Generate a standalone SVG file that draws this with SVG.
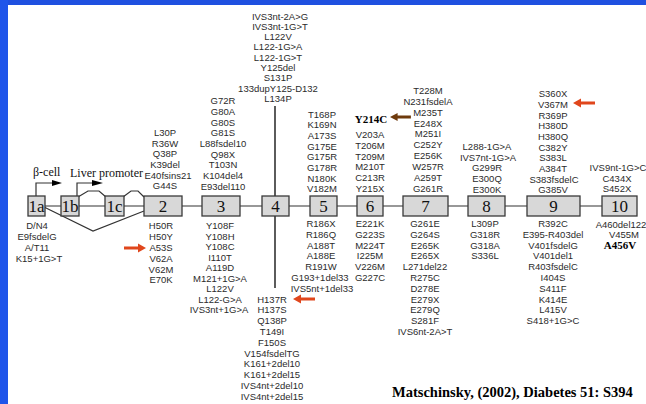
<svg xmlns="http://www.w3.org/2000/svg" xmlns:xlink="http://www.w3.org/1999/xlink" width="646" height="404" viewBox="0 0 646 404">
<style>
.m{font-family:"Liberation Sans",Arial,sans-serif;font-size:9.5px;fill:#2b2b2b;text-anchor:middle}
.b{font-family:"Liberation Serif","Times New Roman",serif;font-weight:bold;font-size:11px;fill:#000;text-anchor:middle}
.n{font-family:"Liberation Serif","Times New Roman",serif;font-size:17px;fill:#111;text-anchor:middle}
.p{font-family:"Liberation Serif","Times New Roman",serif;font-size:12px;fill:#111}
.box{fill:#d8d8d8;stroke:#3a3a3a;stroke-width:1.3}
.ln{fill:none;stroke:#333;stroke-width:1.2}
.vl{fill:none;stroke:#333;stroke-width:1.6}
.red{fill:#e0461c}
.brown{fill:#6e3a0c}
</style>
<defs>
<path id="la" d="M0,0 L8,-4.5 L8,-1.6 L22,-1.6 L22,1.6 L8,1.6 L8,4.5 Z"/>
</defs>
<rect width="646" height="404" fill="#fff"/>
<rect x="0" y="0" width="646" height="5" fill="#1f50e0"/>
<rect x="0" y="0" width="8" height="404" fill="#1f55ea"/>

<g id="connectors">
<line class="ln" x1="36" y1="206" x2="620" y2="206"/>
<polyline class="ln" points="44,207 93,231 144,211"/>
<polyline class="ln" points="78,197 88,191 99,191 106,197"/>
<polyline class="ln" points="123,197 131,191 138,191 144,197"/>
<polyline class="ln" points="36,196 36,183 53,183"/>
<polygon points="52,180 62,183 52,186" fill="#000"/>
<polyline class="ln" points="77,196 77,183 93,183"/>
<polygon points="92,180 103,183 92,186" fill="#000"/>
<line class="vl" x1="275" y1="106" x2="275" y2="196"/>
<line class="vl" x1="275" y1="216" x2="275" y2="288"/>
<use xlink:href="#la" class="red" transform="translate(146,248) scale(-1,1)"/>
<use xlink:href="#la" class="red" x="573" y="103"/>
<use xlink:href="#la" class="red" x="293" y="299"/>
<use xlink:href="#la" class="brown" transform="translate(390,117) scale(0.95,0.9)"/>
</g>

<g id="labels">
<text class="p" x="33" y="176">β-cell</text>
<text class="p" x="70" y="177">Liver promoter</text>
</g>

<g id="exon1a"><rect class="box" x="28" y="196" width="17" height="20"/><text class="n" x="36.5" y="212">1a</text></g>
<g id="exon1b"><rect class="box" x="61" y="196" width="18" height="20"/><text class="n" x="70" y="212">1b</text></g>
<g id="exon1c"><rect class="box" x="105" y="196" width="19" height="20"/><text class="n" x="114.5" y="212">1c</text></g>
<g id="exon2"><rect class="box" x="144" y="196" width="38" height="20"/><text class="n" x="163" y="212">2</text></g>
<g id="exon3"><rect class="box" x="202" y="196" width="38" height="20"/><text class="n" x="221" y="212">3</text></g>
<g id="exon4"><rect class="box" x="262" y="196" width="27" height="20"/><text class="n" x="275.5" y="212">4</text></g>
<g id="exon5"><rect class="box" x="310" y="196" width="27" height="20"/><text class="n" x="323.5" y="212">5</text></g>
<g id="exon6"><rect class="box" x="357" y="196" width="26" height="20"/><text class="n" x="370" y="212">6</text></g>
<g id="exon7"><rect class="box" x="403" y="196" width="45" height="20"/><text class="n" x="425.5" y="212">7</text></g>
<g id="exon8"><rect class="box" x="468" y="196" width="37" height="20"/><text class="n" x="486.5" y="212">8</text></g>
<g id="exon9"><rect class="box" x="527" y="196" width="53" height="20"/><text class="n" x="553.5" y="212">9</text></g>
<g id="exon10"><rect class="box" x="602" y="196" width="35" height="20"/><text class="n" x="619.5" y="212">10</text></g>

<g id="mut-above-2">
<text class="m" x="165" y="136">L30P</text>
<text class="m" x="165" y="146.7">R36W</text>
<text class="m" x="165" y="157.4">Q38P</text>
<text class="m" x="165" y="168">K39del</text>
<text class="m" x="168" y="178.7">E40fsins21</text>
<text class="m" x="165" y="189.3">G44S</text>
</g>
<g id="mut-above-3">
<text class="m" x="223" y="104.3">G72R</text>
<text class="m" x="223" y="115">G80A</text>
<text class="m" x="223" y="125.6">G80S</text>
<text class="m" x="223" y="136.3">G81S</text>
<text class="m" x="223" y="146.9">L88fsdel10</text>
<text class="m" x="223" y="157.6">Q98X</text>
<text class="m" x="223" y="168.2">T103N</text>
<text class="m" x="223" y="178.9">K104del4</text>
<text class="m" x="223" y="189.5">E93del110</text>
</g>
<g id="mut-above-4">
<text class="m" x="280" y="19.5">IVS3nt-2A&gt;G</text>
<text class="m" x="280" y="29.8">IVS3nt-1G&gt;T</text>
<text class="m" x="278" y="40.1">L122V</text>
<text class="m" x="278" y="50.4">L122-1G&gt;A</text>
<text class="m" x="278" y="60.7">L122-1G&gt;T</text>
<text class="m" x="278" y="71">Y125del</text>
<text class="m" x="278" y="81.3">S131P</text>
<text class="m" x="278" y="91.6">133dupY125-D132</text>
<text class="m" x="278" y="101.9">L134P</text>
</g>
<g id="mut-above-5">
<text class="m" x="322" y="117.5">T168P</text>
<text class="m" x="322" y="128.2">K169N</text>
<text class="m" x="322" y="138.9">A173S</text>
<text class="m" x="322" y="149.6">G175E</text>
<text class="m" x="322" y="160.3">G175R</text>
<text class="m" x="322" y="171">G178R</text>
<text class="m" x="322" y="181.7">N180K</text>
<text class="m" x="322" y="192.4">V182M</text>
</g>
<g id="mut-above-6">
<text class="b" x="371" y="123">Y214C</text>
<text class="m" x="370" y="138.3">V203A</text>
<text class="m" x="370" y="149">T206M</text>
<text class="m" x="370" y="159.7">T209M</text>
<text class="m" x="370" y="170.4">M210T</text>
<text class="m" x="370" y="181.1">C213R</text>
<text class="m" x="370" y="191.8">Y215X</text>
</g>
<g id="mut-above-7">
<text class="m" x="428" y="94">T228M</text>
<text class="m" x="428" y="104.9">N231fsdelA</text>
<text class="m" x="428" y="115.7">M235T</text>
<text class="m" x="428" y="126.6">E248X</text>
<text class="m" x="428" y="137.4">M251I</text>
<text class="m" x="428" y="148.3">C252Y</text>
<text class="m" x="428" y="159.1">E256K</text>
<text class="m" x="428" y="170">W257R</text>
<text class="m" x="428" y="180.8">A259T</text>
<text class="m" x="428" y="191.7">G261R</text>
</g>
<g id="mut-above-8">
<text class="m" x="487" y="150">L288-1G&gt;A</text>
<text class="m" x="488" y="160.7">IVS7nt-1G&gt;A</text>
<text class="m" x="487" y="171.3">G299R</text>
<text class="m" x="487" y="182">E300Q</text>
<text class="m" x="487" y="192.6">E300K</text>
</g>
<g id="mut-above-9">
<text class="m" x="553" y="97.3">S360X</text>
<text class="m" x="553" y="108">V367M</text>
<text class="m" x="553" y="118.6">R369P</text>
<text class="m" x="553" y="129.3">H380D</text>
<text class="m" x="553" y="140">H380Q</text>
<text class="m" x="553" y="150.7">C382Y</text>
<text class="m" x="553" y="161.3">S383L</text>
<text class="m" x="553" y="172">A384T</text>
<text class="m" x="554" y="182.7">S383fsdelC</text>
<text class="m" x="553" y="193.3">G385V</text>
</g>
<g id="mut-above-10">
<text class="m" x="618" y="170.8">IVS9nt-1G&gt;C</text>
<text class="m" x="617" y="181.5">C434X</text>
<text class="m" x="617" y="192.2">S452X</text>
</g>

<g id="mut-below-1a">
<text class="m" x="37" y="229.3">D/N4</text>
<text class="m" x="37" y="240.1">E9fsdelG</text>
<text class="m" x="37" y="250.9">A/T11</text>
<text class="m" x="39" y="261.7">K15+1G&gt;T</text>
</g>
<g id="mut-below-2">
<text class="m" x="161" y="229.3">H50R</text>
<text class="m" x="161" y="240.1">H50Y</text>
<text class="m" x="161" y="250.9">A53S</text>
<text class="m" x="161" y="261.7">V62A</text>
<text class="m" x="161" y="272.5">V62M</text>
<text class="m" x="161" y="283.3">E70K</text>
</g>
<g id="mut-below-3">
<text class="m" x="220" y="229.3">Y108F</text>
<text class="m" x="220" y="239.8">Y108H</text>
<text class="m" x="220" y="250.3">Y108C</text>
<text class="m" x="220" y="260.8">I110T</text>
<text class="m" x="220" y="271.3">A119D</text>
<text class="m" x="220" y="281.8">M121+1G&gt;A</text>
<text class="m" x="220" y="292.3">L122V</text>
<text class="m" x="220" y="302.8">L122-G&gt;A</text>
<text class="m" x="219" y="313.3">IVS3nt+1G&gt;A</text>
</g>
<g id="mut-below-4">
<text class="m" x="272" y="302.6">H137R</text>
<text class="m" x="272" y="313.4">H137S</text>
<text class="m" x="272" y="324.2">Q138P</text>
<text class="m" x="272" y="335">T149I</text>
<text class="m" x="272" y="345.8">F150S</text>
<text class="m" x="272" y="356.6">V154fsdelTG</text>
<text class="m" x="272" y="367.4">K161+2del10</text>
<text class="m" x="272" y="378.2">K161+2del15</text>
<text class="m" x="272" y="389">IVS4nt+2del10</text>
<text class="m" x="272" y="399.8">IVS4nt+2del15</text>
</g>
<g id="mut-below-5">
<text class="m" x="321" y="227">R186X</text>
<text class="m" x="321" y="237.8">R186Q</text>
<text class="m" x="321" y="248.6">A188T</text>
<text class="m" x="321" y="259.4">A188E</text>
<text class="m" x="321" y="270.2">R191W</text>
<text class="m" x="320" y="281">G193+1del33</text>
<text class="m" x="322" y="291.8">IVS5nt+1del33</text>
</g>
<g id="mut-below-6">
<text class="m" x="370" y="227">E221K</text>
<text class="m" x="370" y="237.8">G223S</text>
<text class="m" x="370" y="248.6">M224T</text>
<text class="m" x="370" y="259.4">I225M</text>
<text class="m" x="370" y="270.2">V226M</text>
<text class="m" x="370" y="281">G227C</text>
</g>
<g id="mut-below-7">
<text class="m" x="425" y="227">G261E</text>
<text class="m" x="425" y="237.8">G264S</text>
<text class="m" x="425" y="248.6">E265K</text>
<text class="m" x="425" y="259.4">E265X</text>
<text class="m" x="425" y="270.2">L271del22</text>
<text class="m" x="425" y="281">R275C</text>
<text class="m" x="425" y="291.8">D278E</text>
<text class="m" x="425" y="302.6">E279X</text>
<text class="m" x="425" y="313.4">E279Q</text>
<text class="m" x="425" y="324.2">S281F</text>
<text class="m" x="425" y="335">IVS6nt-2A&gt;T</text>
</g>
<g id="mut-below-8">
<text class="m" x="485" y="227">L309P</text>
<text class="m" x="485" y="237.8">G318R</text>
<text class="m" x="485" y="248.6">G318A</text>
<text class="m" x="485" y="259.4">S336L</text>
</g>
<g id="mut-below-9">
<text class="m" x="553" y="227">R392C</text>
<text class="m" x="553" y="237.8">E395-R403del</text>
<text class="m" x="553" y="248.6">V401fsdelG</text>
<text class="m" x="553" y="259.4">V401del1</text>
<text class="m" x="553" y="270.2">R403fsdelC</text>
<text class="m" x="553" y="281">I404S</text>
<text class="m" x="553" y="291.8">S411F</text>
<text class="m" x="553" y="302.6">K414E</text>
<text class="m" x="553" y="313.4">L415V</text>
<text class="m" x="553" y="324.2">S418+1G&gt;C</text>
</g>
<g id="mut-below-10">
<text class="m" x="621" y="227.5">A460del122</text>
<text class="m" x="624" y="238">V455M</text>
<text class="b" x="620" y="248.5">A456V</text>
</g>

<g id="citation">
<text x="392" y="397" style="font-family:'Liberation Serif','Times New Roman',serif;font-weight:bold;font-size:14.5px;fill:#000">Matschinsky, (2002), Diabetes 51: S394</text>
</g>
</svg>
